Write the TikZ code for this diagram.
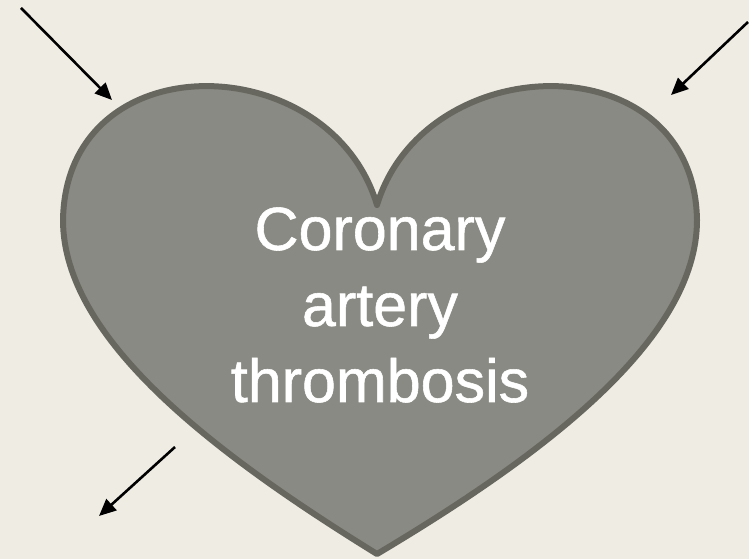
\documentclass[tikz,border=0pt]{standalone}
\usepackage{fontspec}
\setmainfont{Liberation Sans}
\newfontfamily\heartfont{Liberation Sans}[FakeBold=0.9]
\usetikzlibrary{arrows.meta}

\definecolor{paper}{HTML}{EFECE4}
\definecolor{heartfill}{HTML}{8A8A84}
\definecolor{heartline}{HTML}{67675F}

\tikzset{
  pointer/.style={draw=black, line width=2.6pt, -{Triangle[length=17pt,width=15pt]}},
  heartshape/.style={fill=heartfill, draw=heartline, line width=6pt, line join=round},
  caption/.style={text=white, align=center, font=\heartfont\fontsize{61}{76}\selectfont}
}

\begin{document}
\begin{tikzpicture}[x=1pt, y=1pt]
\fill[paper] (0,0) rectangle (749,559);
\useasboundingbox (0,0) rectangle (749,559);
% heart
\draw[heartshape] (377,5)
  .. controls (215,105) and (63,220) .. (63,339)
  .. controls (66,518) and (330,512) .. (377,354)
  .. controls (425,512) and (694,518) .. (697,339)
  .. controls (697,220) and (545,105) .. cycle;
\node[caption] (label) at (380,254) {Coronary\\artery\\thrombosis};
% arrows
\coordinate (tlstart) at (21,551);
\coordinate (tlend) at (112,459);
\coordinate (trstart) at (748,537);
\coordinate (trend) at (671,464);
\coordinate (blstart) at (175,112);
\coordinate (blend) at (99,43);
\draw[pointer] (tlstart) -- (tlend);
\draw[pointer] (trstart) -- (trend);
\draw[pointer] (blstart) -- (blend);
\end{tikzpicture}
\end{document}
